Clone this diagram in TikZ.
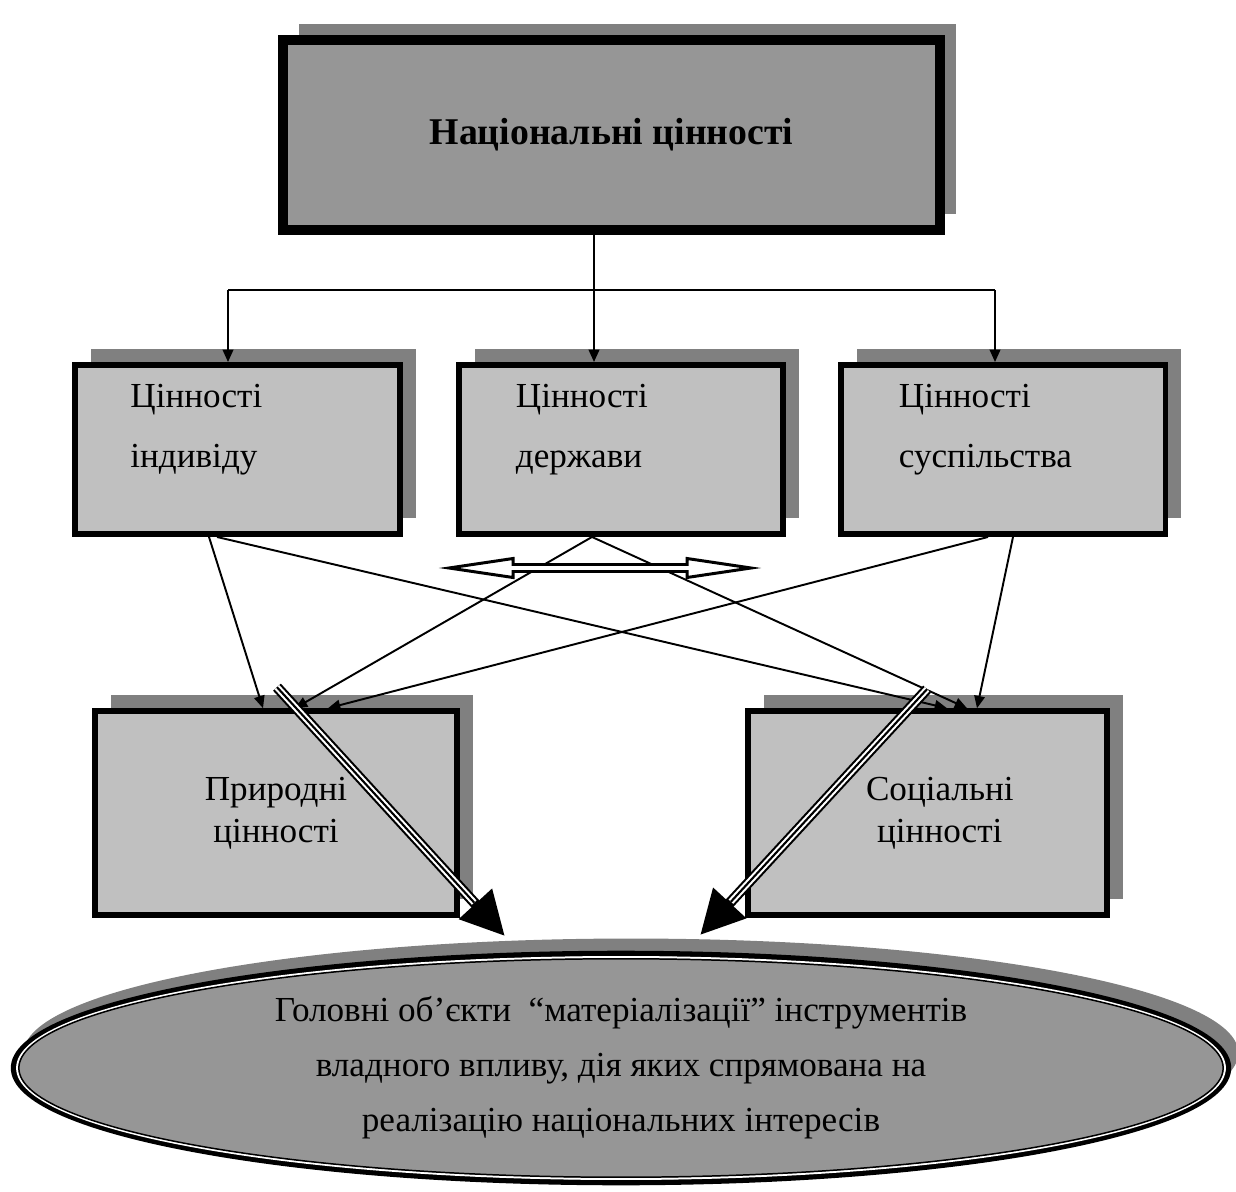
\documentclass[tikz,border=0pt]{standalone}
\usepackage{fontspec}
\setmainfont{Liberation Serif}
\usetikzlibrary{shadows,shapes.geometric,arrows.meta,calc}
\definecolor{shade}{gray}{0.5}
\definecolor{darkfill}{gray}{0.59}
\definecolor{lightfill}{gray}{0.753}

\begin{document}
\begin{tikzpicture}[x=0.02cm,y=-0.02cm,>={Triangle[length=7pt,width=6pt]},
    link/.style={line width=1.1pt},
    main node/.style={rectangle,draw,fill=lightfill,line width=3.4pt,inner sep=0pt,align=center,
        font=\fontsize{20}{24}\selectfont,
        general shadow={fill=shade,shadow xshift=0.32cm,shadow yshift=0.32cm}},
    value text/.style={anchor=north west,inner sep=0pt,align=left,font=\fontsize{20}{34}\selectfont},
    triple/.style={line width=6pt,-{Triangle[length=25pt,width=24pt]}}]
    \useasboundingbox (0,0) rectangle (1236,1192);

    \node[main node,fill=darkfill,line width=5.7pt,minimum width=13.14cm,minimum height=3.8cm,
        font=\bfseries\fontsize{21.5}{24}\selectfont] (nat) at (611.5,135) {Національні цінності};

    \node[main node,minimum width=6.5cm,minimum height=3.38cm] (ind) at (237.5,449.5) {};
    \node[main node,minimum width=6.5cm,minimum height=3.38cm] (der) at (621,449.5) {};
    \node[main node,minimum width=6.5cm,minimum height=3.38cm] (sus) at (1003,449.5) {};
    \node[value text] (ind-t) at ($(ind.north west)+(58,22)$) {Цінності\\індивіду};
    \node[value text] (der-t) at ($(der.north west)+(60,22)$) {Цінності\\держави};
    \node[value text] (sus-t) at ($(sus.north west)+(61,22)$) {Цінності\\суспільства};

    \node[main node,line width=3.2pt,minimum width=7.24cm,minimum height=4.08cm] (pry) at (276,813) {Природні\\цінності};
    \node[main node,line width=3.2pt,minimum width=7.18cm,minimum height=4.08cm] (soc) at (927.5,813) {\hspace*{14pt}Соціальні\\\hspace*{14pt}цінності};

    \node[ellipse,draw,fill=darkfill,line width=3.2pt,inner sep=0pt,minimum width=24.3cm,minimum height=4.58cm,
        general shadow={fill=shade,shadow xshift=0.2cm,shadow yshift=0.3cm},
        align=center,font=\fontsize{20}{31.3}\selectfont] (ell) at (621,1068)
        {Головні об’єкти~ “матеріалізації” інструментів\\владного впливу, дія яких спрямована на\\реалізацію національних інтересів};
    \draw[white,line width=1.14pt] (ell.center) ellipse [x radius=12.08cm,y radius=2.22cm];
    \draw[line width=0.85pt] (ell.center) ellipse [x radius=12.045cm,y radius=2.185cm];

    % top links
    \coordinate (hub) at (594,290);
    \coordinate (hubl) at (228,290);
    \coordinate (hubr) at (995,290);
    \draw[link] (nat.south -| hub) -- (hub);
    \draw[link] (hubl) -- (hubr);
    \draw[link,->] (hubl) -- (hubl |- ind.north);
    \draw[link,->] (hub) -- (hub |- der.north);
    \draw[link,->] (hubr) -- (hubr |- sus.north);

    % cross links
    \draw[link,->] ($(ind.south)+(-28.5,0)$) -- ($(pry.north)+(-13,0)$);
    \draw[link,->] ($(ind.south)+(-20.5,0)$) -- ($(soc.north)+(19.5,0)$);
    \draw[link,->] ($(der.south)+(-29,0)$) -- ($(pry.north)+(19,0)$);
    \draw[link,->] ($(der.south)+(-29,0)$) -- ($(soc.north)+(39.5,0)$);
    \draw[link,->] ($(sus.south)+(-15,0)$) -- ($(pry.north)+(52,0)$);
    \draw[link,->] ($(sus.south)+(10,0)$) -- ($(soc.north)+(49.5,0)$);

    \draw[line width=1.7pt,fill=white] (449,568) -- (513,558.5) -- (513,564.5) -- (687,564.5) -- (687,558.5)
        -- (751,568) -- (687,577.5) -- (687,571.5) -- (513,571.5) -- (513,577.5) -- cycle;

    % heavy arrows to the ellipse
    \coordinate (lt) at ($(pry.north)+(1,-21)$);
    \coordinate (lb) at ($(ell.north)+(-116,-14.5)$);
    \coordinate (rt) at ($(soc.north)+(-0.5,-19)$);
    \coordinate (rb) at ($(ell.north)+(79,-15.5)$);
    \draw[triple] (lt) -- (lb);
    \draw[white,line width=3.6pt,shorten >=26pt] (lt) -- (lb);
    \draw[line width=1.2pt,shorten >=26pt] (lt) -- (lb);
    \draw[triple] (rt) -- (rb);
    \draw[white,line width=3.6pt,shorten >=26pt] (rt) -- (rb);
    \draw[line width=1.2pt,shorten >=26pt] (rt) -- (rb);
\end{tikzpicture}
\end{document}
